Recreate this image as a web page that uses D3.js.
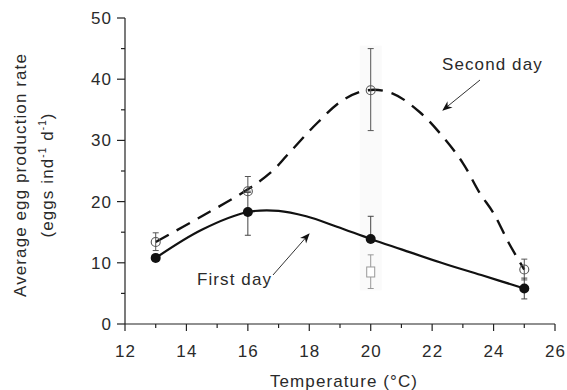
<!DOCTYPE html>
<html>
<head>
<meta charset="utf-8">
<script src="https://cdn.jsdelivr.net/npm/d3@7"></script>
<style>
  body { margin: 0; background: #fff; }
  svg text { font-family: "Liberation Sans", Arial, sans-serif; fill: #2a2a2a; letter-spacing: 1.1px; }
</style>
</head>
<body>
<svg id="chart" width="567" height="390"></svg>
<script>
// data
var temps = [13, 16, 20, 25];
var firstDay = [10.8, 18.3, 13.9, 5.8];
var firstLo  = [10.8, 14.5, 13.9, 4.1];
var firstHi  = [10.8, 21.5, 17.6, 7.5];
var secondDay = [13.4, 21.7, 38.2, 8.9];
var secondLo  = [12.0, 21.7, 31.6, 7.2];
var secondHi  = [14.9, 24.1, 45.0, 10.6];
// extra (open square) point at 20 °C
var extraT = [20], extraV = [8.5], extraLo = [5.8], extraHi = [11.3];

// fitted curves
var firstCurveX = [13, 14.5, 16, 17, 17.9, 18.9, 20, 21, 22.3, 23.6, 25];
var firstCurveY = [10.8, 15.4, 18.3, 18.5, 17.6, 15.9, 13.9, 12.2, 10.0, 8.0, 5.8];
var secondCurveX = [13, 14.5, 16, 16.8, 17.3, 18.25, 19.1, 19.9, 20.7, 21.6, 22.35, 23, 23.55, 24, 24.5, 25];
var secondCurveY = [13.4, 17.6, 22.0, 25.0, 27.7, 32.8, 36.6, 38.2, 37.7, 34.6, 30.6, 26.3, 21.4, 18.1, 13.2, 8.9];

var xTicks = [12, 14, 16, 18, 20, 22, 24, 26];
var yTicks = [0, 10, 20, 30, 40, 50];

var svg = d3.select("#chart");
var x = d3.scaleLinear().domain([12, 26]).range([125, 555]);
var y = d3.scaleLinear().domain([0, 50]).range([324, 18]);

// faint shading behind the 20 °C column
svg.append("rect")
    .attr("x", x(20) - 11).attr("width", 22)
    .attr("y", y(45.5)).attr("height", y(5.5) - y(45.5))
    .attr("fill", "#fafafa");

// axes
var ax = svg.append("g").attr("stroke", "#222").attr("stroke-width", 1.2);
ax.append("line").attr("x1", x(12)).attr("x2", x(26)).attr("y1", y(0)).attr("y2", y(0));
ax.append("line").attr("x1", x(12)).attr("x2", x(12)).attr("y1", y(0)).attr("y2", y(50));
d3.range(12, 26.5, 1).forEach(function(t){
    var major = t % 2 === 0;
    ax.append("line").attr("x1", x(t)).attr("x2", x(t))
        .attr("y1", y(0)).attr("y2", y(0) + (major ? 7 : 4));
});
d3.range(0, 50.5, 5).forEach(function(v){
    var major = v % 10 === 0;
    ax.append("line").attr("y1", y(v)).attr("y2", y(v))
        .attr("x1", x(12)).attr("x2", x(12) - (major ? 8 : 4));
});
svg.selectAll(".xt").data(xTicks).enter().append("text")
    .attr("x", function(d){ return x(d) + 0.5; }).attr("y", 357)
    .attr("text-anchor", "middle").attr("font-size", 17)
    .text(function(d){ return d; });
svg.selectAll(".yt").data(yTicks).enter().append("text")
    .attr("x", 112).attr("y", function(d){ return y(d) + 6; })
    .attr("text-anchor", "end").attr("font-size", 17)
    .text(function(d){ return d; });

svg.append("text").attr("x", 344).attr("y", 387).attr("text-anchor", "middle")
    .attr("font-size", 17).text("Temperature (°C)");

var yl = svg.append("g").attr("transform", "translate(26,175) rotate(-90)");
yl.append("text").attr("text-anchor", "middle").attr("font-size", 17)
    .text("Average egg production rate");
var yl2 = yl.append("text").attr("y", 27).attr("text-anchor", "middle").attr("font-size", 17);
yl2.append("tspan").text("(eggs ind");
yl2.append("tspan").attr("font-size", 10).attr("dy", -7).text("-1");
yl2.append("tspan").attr("dy", 7).text(" d");
yl2.append("tspan").attr("font-size", 10).attr("dy", -7).text("-1");
yl2.append("tspan").attr("dy", 7).text(")");

// curves
var line = d3.line().curve(d3.curveCatmullRom.alpha(0.5))
    .x(function(d){ return x(d[0]); }).y(function(d){ return y(d[1]); });
svg.append("path").datum(d3.zip(secondCurveX, secondCurveY))
    .attr("d", line).attr("fill", "none").attr("stroke", "#111")
    .attr("stroke-width", 2.4).attr("stroke-dasharray", "15,9");
svg.append("path").datum(d3.zip(firstCurveX, firstCurveY))
    .attr("d", line).attr("fill", "none").attr("stroke", "#111")
    .attr("stroke-width", 2.2);

// error bars
function errorBars(ts, lo, hi, col){
    var g = svg.append("g").attr("stroke", col).attr("stroke-width", 1);
    ts.forEach(function(t, i){
        if (hi[i] === lo[i]) return;
        g.append("line").attr("x1", x(t)).attr("x2", x(t)).attr("y1", y(lo[i])).attr("y2", y(hi[i]));
        [lo[i], hi[i]].forEach(function(v){
            g.append("line").attr("x1", x(t) - 3).attr("x2", x(t) + 3).attr("y1", y(v)).attr("y2", y(v));
        });
    });
}
errorBars(extraT, extraLo, extraHi, "#999");
errorBars(temps, secondLo, secondHi, "#555");
errorBars(temps, firstLo, firstHi, "#444");

svg.selectAll(".sq").data(extraT).enter().append("rect")
    .attr("x", function(d){ return x(d) - 4; }).attr("y", function(d, i){ return y(extraV[i]) - 5; })
    .attr("width", 8).attr("height", 10)
    .attr("fill", "#fff").attr("stroke", "#999").attr("stroke-width", 1);
svg.selectAll(".open").data(temps).enter().append("circle")
    .attr("cx", function(d){ return x(d); }).attr("cy", function(d, i){ return y(secondDay[i]); })
    .attr("r", 4.5).attr("fill", "none").attr("stroke", "#555").attr("stroke-width", 1.1);
svg.selectAll(".filled").data(temps).enter().append("circle")
    .attr("cx", function(d){ return x(d); }).attr("cy", function(d, i){ return y(firstDay[i]); })
    .attr("r", 5).attr("fill", "#111");

// annotations with arrows
svg.append("defs").append("marker").attr("id", "arr")
    .attr("viewBox", "0 0 10 10").attr("refX", 9).attr("refY", 5)
    .attr("markerWidth", 10).attr("markerHeight", 10).attr("orient", "auto")
    .attr("markerUnits", "userSpaceOnUse")
    .append("path").attr("d", "M0,1 L10,5 L0,9 L3,5 Z").attr("fill", "#111");

svg.append("text").attr("x", 442).attr("y", 70).attr("font-size", 17).text("Second day");
svg.append("line").attr("x1", 480).attr("y1", 80).attr("x2", 443).attr("y2", 110)
    .attr("stroke", "#333").attr("stroke-width", 1).attr("marker-end", "url(#arr)");

svg.append("text").attr("x", 197).attr("y", 285).attr("font-size", 17).text("First day");
svg.append("line").attr("x1", 273).attr("y1", 275).attr("x2", 309).attr("y2", 234)
    .attr("stroke", "#333").attr("stroke-width", 1).attr("marker-end", "url(#arr)");
</script>
</body>
</html>
